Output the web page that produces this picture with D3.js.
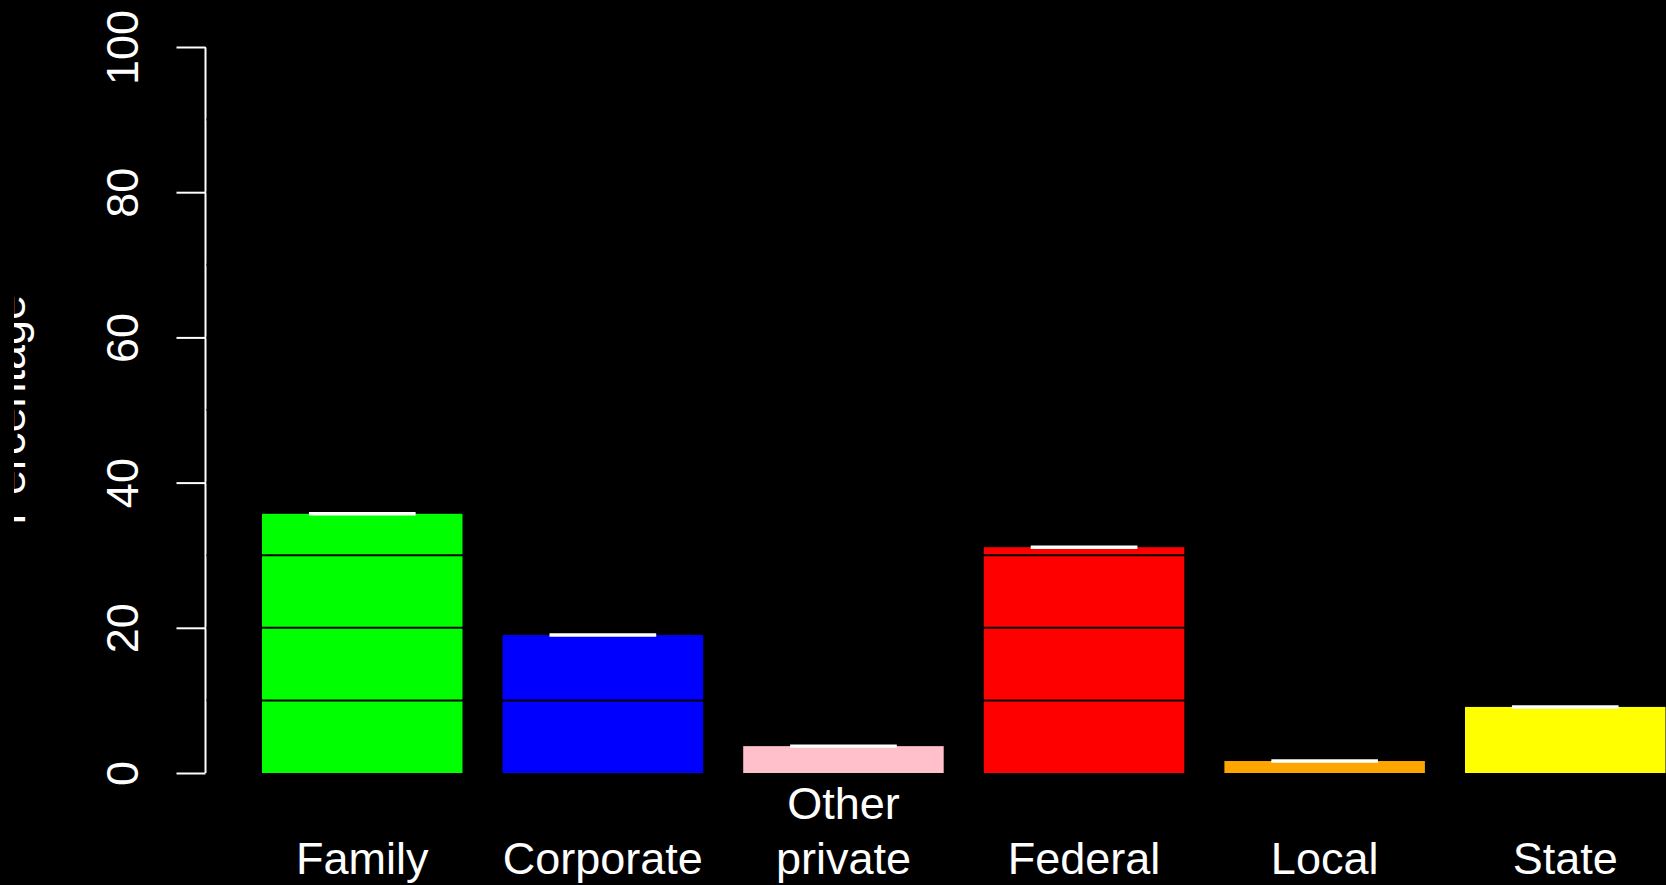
<!DOCTYPE html>
<html>
<head>
<meta charset="utf-8">
<script src="https://cdn.jsdelivr.net/npm/d3@7"></script>
<style>
  html, body { margin: 0; padding: 0; background: #000; }
  svg { display: block; }
  text { font-family: "Liberation Sans", Arial, sans-serif; fill: #fff; }
</style>
</head>
<body>
<div id="chart"></div>
<script>
'use strict';

// ---- data ----
const categories = ['Family', 'Corporate', 'Other\nprivate', 'Federal', 'Local', 'State'];
const percentages = [35.7, 19.0, 3.7, 31.1, 1.65, 9.1];
const errors = [0.1, 0.1, 0.1, 0.1, 0.1, 0.1];
const barColors = ['#00ff00', '#0000ff', '#ffc0cb', '#ff0000', '#ffa500', '#ffff00'];
const yTicks = [0, 20, 40, 60, 80, 100];
const gridValues = [10, 20, 30, 40, 50, 60, 70, 80, 90, 100];

// ---- layout ----
const width = 1666;
const height = 885;
const axisX = 205.5;
const fontSize = 45;

let svg = d3.select('#chart').append('svg')
    .attr('width', width)
    .attr('height', height);

svg.append('rect')
    .attr('width', width)
    .attr('height', height)
    .attr('fill', '#000');

// the y label is cut on its left side in the original
svg.append('clipPath')
    .attr('id', 'ylabClip')
    .append('rect')
    .attr('x', 14)
    .attr('y', 0)
    .attr('width', 200)
    .attr('height', height);

let y = d3.scaleLinear([0, 100], [773, 47]);

// band: bar width 201, step ~240.6, R-style space 0.2
let pad = 0.2 / 1.2;
let x = d3.scaleBand()
    .domain(categories)
    .range([221.9, 1705.6])
    .paddingInner(pad)
    .paddingOuter(pad);

// bars
svg.selectAll('.bar')
    .data(categories)
    .enter()
    .append('rect')
    .attr('class', 'bar')
    .attr('x', d => x(d))
    .attr('y', (d, i) => y(percentages[i]))
    .attr('width', x.bandwidth())
    .attr('height', (d, i) => y(0) - y(percentages[i]))
    .attr('fill', (d, i) => barColors[i]);

// y axis
let yAxis = d3.axisLeft(y)
    .tickValues(yTicks)
    .tickSize(29)
    .tickPadding(0)
    .tickFormat(d3.format('d'));

let axisG = svg.append('g')
    .attr('transform', `translate(${axisX},0)`)
    .call(yAxis);

axisG.select('.domain')
    .attr('d', `M0,${y(0)}V${y(100)}`)
    .attr('stroke', '#fff')
    .attr('stroke-width', 2);
axisG.selectAll('.tick line')
    .attr('stroke', '#fff')
    .attr('stroke-width', 2);
axisG.selectAll('.tick text')
    .attr('x', null)
    .attr('dy', null)
    .attr('transform', d => `translate(${138 - axisX},0) rotate(-90)`)
    .attr('text-anchor', 'middle')
    .attr('fill', '#fff')
    .style('font-size', fontSize + 'px')
    .style('font-family', '"Liberation Sans", Arial, sans-serif');

// black horizontal lines every 10
svg.selectAll('.grid')
    .data(gridValues)
    .enter()
    .append('line')
    .attr('class', 'grid')
    .attr('x1', axisX + 1)
    .attr('x2', width)
    .attr('y1', d => y(d))
    .attr('y2', d => y(d))
    .attr('stroke', '#000')
    .attr('stroke-width', 2);

// error bars (tiny)
let capHalf = x.bandwidth() * 0.266;
let errG = svg.selectAll('.err')
    .data(categories)
    .enter()
    .append('g')
    .attr('class', 'err')
    .attr('stroke', '#fff')
    .attr('stroke-width', 2);

errG.append('line')
    .attr('x1', d => x(d) + x.bandwidth() / 2)
    .attr('x2', d => x(d) + x.bandwidth() / 2)
    .attr('y1', (d, i) => y(percentages[i] - errors[i]))
    .attr('y2', (d, i) => y(percentages[i] + errors[i]));
errG.append('line')
    .attr('x1', d => x(d) + x.bandwidth() / 2 - capHalf)
    .attr('x2', d => x(d) + x.bandwidth() / 2 + capHalf)
    .attr('y1', (d, i) => y(percentages[i] + errors[i]))
    .attr('y2', (d, i) => y(percentages[i] + errors[i]));
errG.append('line')
    .attr('x1', d => x(d) + x.bandwidth() / 2 - capHalf)
    .attr('x2', d => x(d) + x.bandwidth() / 2 + capHalf)
    .attr('y1', (d, i) => y(percentages[i] - errors[i]))
    .attr('y2', (d, i) => y(percentages[i] - errors[i]));

// category labels
let labelG = svg.selectAll('.cat')
    .data(categories)
    .enter()
    .append('text')
    .attr('class', 'cat')
    .attr('text-anchor', 'middle')
    .style('font-size', fontSize + 'px');

labelG.each(function (d) {
    let lines = d.split('\n');
    let cx = x(d) + x.bandwidth() / 2;
    let base = 874 - (lines.length - 1) * 55;
    d3.select(this).selectAll('tspan')
        .data(lines)
        .enter()
        .append('tspan')
        .attr('x', cx)
        .attr('y', (t, j) => base + j * 55)
        .text(t => t);
});

// y label
svg.append('g')
    .attr('clip-path', 'url(#ylabClip)')
    .append('text')
    .attr('transform', `translate(25,${(y(0) + y(100)) / 2}) rotate(-90)`)
    .attr('text-anchor', 'middle')
    .style('font-size', fontSize + 'px')
    .text('Percentage');
</script>
</body>
</html>
